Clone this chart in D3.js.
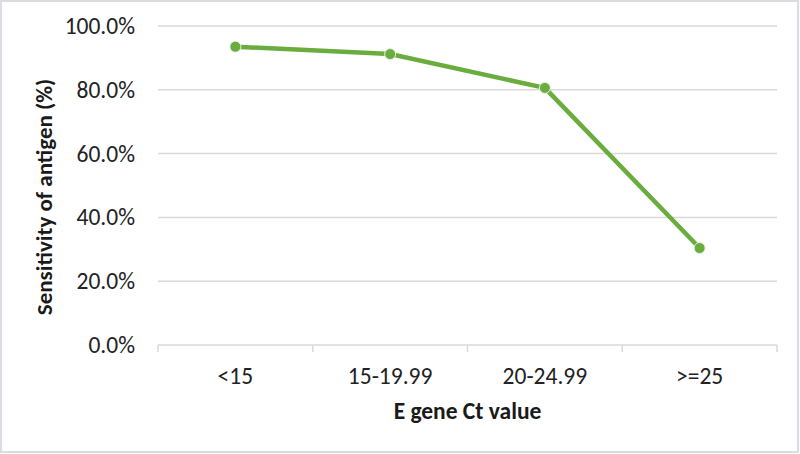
<!DOCTYPE html>
<html><head><meta charset="utf-8">
<script src="https://cdn.jsdelivr.net/npm/d3@7"></script>
<style>
html,body{margin:0;padding:0;background:#fff;}
svg{display:block;font-family:Carlito, Calibri, Lato, sans-serif;}
</style></head>
<body>
<svg id="chart" width="800" height="454"></svg>
<script>
const categories = ["<15", "15-19.99", "20-24.99", ">=25"];
const sensitivity = [0.935, 0.912, 0.806, 0.304];
const yTicks = [0, 0.2, 0.4, 0.6, 0.8, 1.0];
const yTitle = "Sensitivity of antigen (%)";
const xTitle = "E gene Ct value";

(function(){
const FS = 23.5;
const svg = d3.select("#chart");
svg.append("rect").attr("x",1).attr("y",1).attr("width",797).attr("height",451)
  .attr("fill","#fff").attr("stroke","#dcdce4").attr("stroke-width",2);

const mLeft = 158, mRight = 777, mTop = 26, mBottom = 345;
const x = d3.scaleBand().domain(categories).range([mLeft, mRight]);
const y = d3.scaleLinear().domain([0, 1]).range([mBottom, mTop]);

svg.append("g").selectAll("line").data(yTicks.filter(d=>d>0)).join("line")
  .attr("x1", mLeft).attr("x2", mRight)
  .attr("y1", d=>y(d)).attr("y2", d=>y(d))
  .attr("stroke","#d9d9d9").attr("stroke-width",1.5);

const yAxis = d3.axisLeft(y).tickValues(yTicks).tickFormat(d3.format(".1%")).tickSize(0).tickPadding(23);
const gy = svg.append("g").attr("transform",`translate(${mLeft},0)`).call(yAxis);
gy.select(".domain").remove();
gy.selectAll("text").attr("font-size",FS).attr("fill","#222").attr("font-family","Carlito, Calibri, Lato, sans-serif");

const xAxis = d3.axisBottom(x).tickSize(0).tickPadding(22);
const gx = svg.append("g").attr("transform",`translate(0,${mBottom})`).call(xAxis);
gx.select(".domain").attr("stroke","#d9d9d9").attr("stroke-width",1.5).attr("d",`M${mLeft},0H${mRight}`);
gx.selectAll("text").attr("font-size",FS).attr("fill","#222").attr("font-family","Carlito, Calibri, Lato, sans-serif");
const bounds = categories.map(c=>x(c)).concat([x(categories[categories.length-1])+x.bandwidth()]);
gx.append("g").selectAll("line").data(bounds).join("line")
  .attr("x1",d=>d).attr("x2",d=>d).attr("y1",0).attr("y2",7)
  .attr("stroke","#d9d9d9").attr("stroke-width",1.5);

const cx = d => x(d) + x.bandwidth()/2;
const data = categories.map((c,i)=>({c, v: sensitivity[i]}));
svg.append("path").datum(data)
  .attr("d", d3.line().x(d=>cx(d.c)).y(d=>y(d.v)))
  .attr("fill","none").attr("stroke","#6aac3e").attr("stroke-width",4.5).attr("stroke-linejoin","round");
svg.append("g").selectAll("circle").data(data).join("circle")
  .attr("cx", d=>cx(d.c)).attr("cy", d=>y(d.v)).attr("r",5.5)
  .attr("fill","#6aac3e").attr("stroke","#e8f2e0").attr("stroke-width",1);

svg.append("text").attr("x",(mLeft+mRight)/2).attr("y",419).attr("text-anchor","middle")
  .attr("font-size",FS).attr("font-weight","bold").attr("fill","#1a1a1a").text(xTitle);
svg.append("text").attr("transform",`translate(52,197) rotate(-90)`)
  .attr("text-anchor","middle").attr("font-size",FS-0.5).attr("font-weight","bold").attr("fill","#1a1a1a").text(yTitle);
})();
</script>
</body></html>
